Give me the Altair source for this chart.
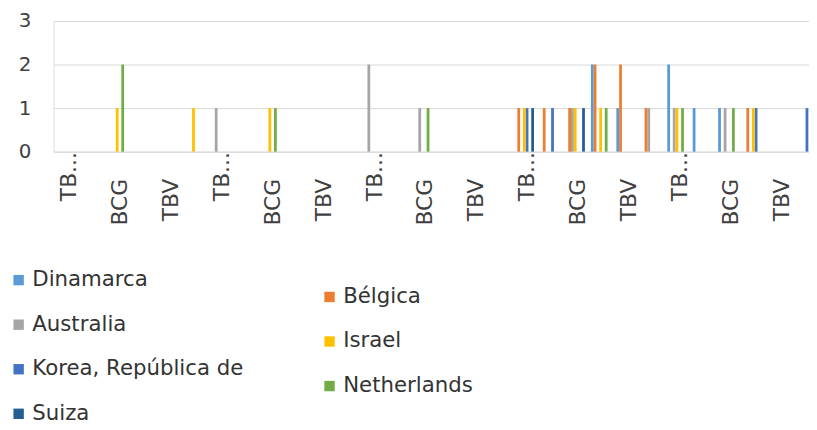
import altair as alt
import pandas as pd

# Category tick labels (Excel showed only every other category label)
tick_labels = [
    "TB...", "", "BCG", "", "TBV", "",
    "TB...", "", "BCG", "", "TBV", "",
    "TB...", "", "BCG", "", "TBV", "",
    "TB...", "", "BCG", "", "TBV", "",
    "TB...", "", "BCG", "", "TBV", "",
]
categories = list(range(len(tick_labels)))

series = ["Dinamarca", "Bélgica", "Australia", "Israel",
          "Korea, República de", "Netherlands", "Suiza"]
colors = ["#5B9BD5", "#ED7D31", "#A5A5A5", "#FFC000",
          "#4472C4", "#70AD47", "#255E91"]

dinamarca   = [0,0,0,0,0,0, 0,0,0,0,0,0, 0,0,0,0,0,0, 0,0,0,2,1,0, 2,1,1,0,0,0]
belgica     = [0,0,0,0,0,0, 0,0,0,0,0,0, 0,0,0,0,0,0, 1,1,1,2,2,1, 0,0,0,1,0,0]
australia   = [0,0,0,0,0,0, 1,0,0,0,0,0, 2,0,1,0,0,0, 0,0,1,0,0,1, 1,0,1,0,0,0]
israel      = [0,0,1,0,0,1, 0,0,1,0,0,0, 0,0,0,0,0,0, 1,0,1,1,0,0, 1,0,0,1,0,0]
korea       = [0,0,0,0,0,0, 0,0,0,0,0,0, 0,0,0,0,0,0, 1,1,0,0,0,0, 0,0,0,1,0,1]
netherlands = [0,0,2,0,0,0, 0,0,1,0,0,0, 0,0,1,0,0,0, 0,0,0,1,0,0, 1,0,1,0,0,0]
suiza       = [0,0,0,0,0,0, 0,0,0,0,0,0, 0,0,0,0,0,0, 1,0,1,0,0,0, 0,0,0,0,0,0]

values = [dinamarca, belgica, australia, israel, korea, netherlands, suiza]

legend_col1 = ["Dinamarca", "Australia", "Korea, República de", "Suiza"]
legend_col2 = ["Bélgica", "Israel", "Netherlands"]

rows = []
for s, vals in zip(series, values):
    for c, v in zip(categories, vals):
        rows.append({"cat": c, "series": s, "value": v})
df = pd.DataFrame(rows)

color_of = dict(zip(series, colors))
FONT = "DejaVu Sans"
TXT = "#404040"

arr = "[" + ",".join("'" + t + "'" for t in tick_labels) + "]"
label_expr = arr + "[datum.value]"

x_axis = alt.Axis(
    title=None, labelExpr=label_expr, labelAngle=270, labelAlign="right",
    labelBaseline="middle", labelFont=FONT, labelFontSize=22, labelColor=TXT,
    labelOffset=3,
    labelPadding={"condition": {"test": arr + "[datum.value] == 'TB...'", "value": 0}, "value": 27},
    ticks=False, domain=False, grid=False, labelOverlap=False,
)
y_axis = alt.Axis(
    title=None, values=[0, 1, 2, 3], labelFont=FONT, labelFontSize=20,
    labelColor=TXT, labelPadding=23, ticks=False, domain=False,
    gridColor="#D9D9D9", gridWidth=1,
)


def bars(members, lx, ly):
    return alt.Chart(df).transform_filter(
        alt.FieldOneOfPredicate(field="series", oneOf=members)
    ).mark_bar().encode(
        x=alt.X("cat:O", scale=alt.Scale(domain=categories, paddingInner=0.237,
                                         paddingOuter=0.1185, range=[0, 771]),
                axis=x_axis),
        xOffset=alt.XOffset("series:N", scale=alt.Scale(domain=series)),
        y=alt.Y("value:Q", scale=alt.Scale(domain=[0, 3]), axis=y_axis),
        color=alt.Color(
            "series:N",
            scale=alt.Scale(domain=members, range=[color_of[m] for m in members]),
            legend=alt.Legend(
                title=None, orient="none", legendX=lx, legendY=ly,
                direction="vertical", labelFont=FONT, labelFontSize=21.5,
                labelColor="#333333", symbolType="square", symbolSize=110,
                symbolStrokeWidth=0, rowPadding=22, labelOffset=3,
                labelLimit=400, padding=0,
            ),
        ),
    )


chart = alt.layer(
    bars(legend_col1, -46, 251),
    bars(legend_col2, 268, 268),
).resolve_scale(color="independent").properties(
    width=763, height=132,
    autosize=alt.AutoSizeParams(type="none"),
    padding={"left": 46, "top": 11, "right": 0, "bottom": 276},
).configure_view(stroke="transparent").configure(background="white")

chart.save("out.html", embed_options={"renderer": "svg", "actions": False})
